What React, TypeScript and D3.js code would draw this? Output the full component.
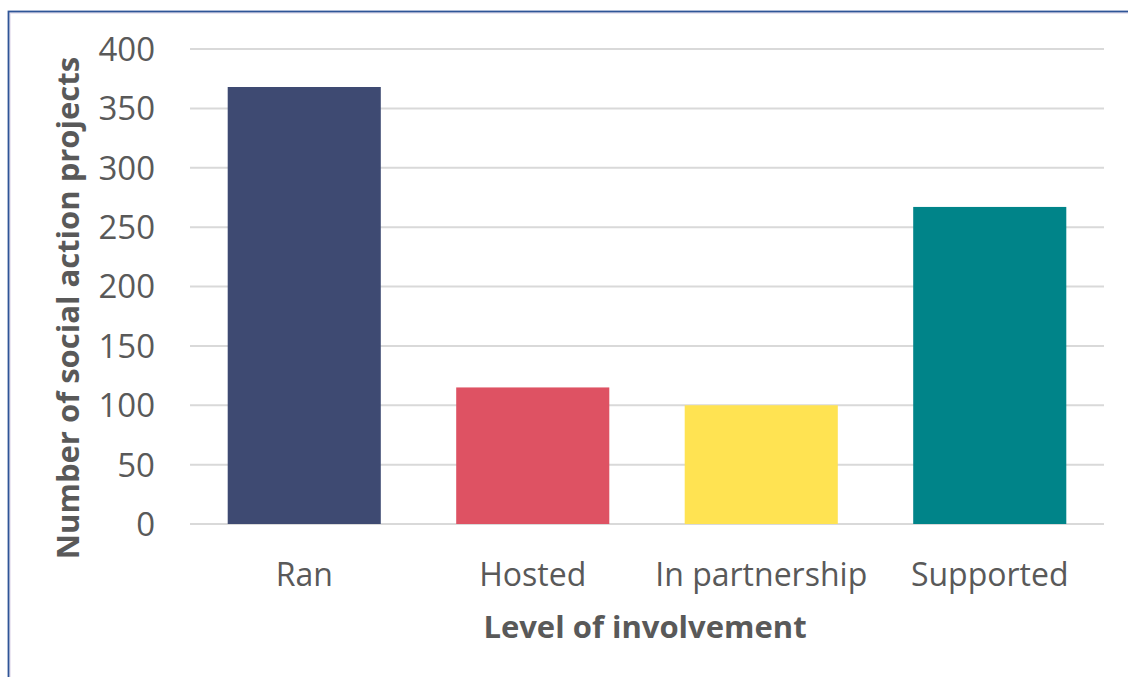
import React from "react";
import * as d3 from "d3";

const categories = ["Ran", "Hosted", "In partnership", "Supported"];
const values = [368, 115, 100, 267];
const barColors = ["#3E4A72", "#DE5263", "#FFE352", "#008489"];
const yTicks = [0, 50, 100, 150, 200, 250, 300, 350, 400];
const xTitle = "Level of involvement";
const yTitle = "Number of social action projects";

const W = 1128;
const H = 677;
const margin = { left: 190, right: 24, top: 49, bottom: 153 };
const FONT = "'Open Sans', 'Noto Sans', sans-serif";
const TEXT = "#595959";

export default function App() {
  const x = d3
    .scaleBand<string>()
    .domain(categories)
    .range([margin.left, W - margin.right])
    .paddingInner(0.33)
    .paddingOuter(0.165);
  const y = d3.scaleLinear().domain([0, 400]).range([H - margin.bottom, margin.top]);

  return (
    <svg
      width={W}
      height={H}
      style={{ position: "absolute", left: 0, top: 0, background: "#fff" }}
    >
      <rect x={0} y={0} width={W} height={H} fill="#fff" />
      {/* frame */}
      <rect x={10} y={13} width={W + 20} height={H + 20} fill="none" stroke="#E6E0EE" strokeWidth={1.5} />
      <rect x={8.5} y={11.5} width={W + 20} height={H + 20} fill="none" stroke="#2F5597" strokeWidth={1.8} />

      {/* gridlines */}
      {yTicks.map((t) => (
        <line
          key={t}
          x1={margin.left}
          x2={W - margin.right}
          y1={y(t)}
          y2={y(t)}
          stroke="#D9D9D9"
          strokeWidth={2}
        />
      ))}

      {/* bars */}
      {categories.map((c, i) => (
        <rect
          key={c}
          x={x(c)!}
          y={y(values[i])}
          width={x.bandwidth()}
          height={y(0) - y(values[i])}
          fill={barColors[i]}
        />
      ))}

      {/* y tick labels */}
      {yTicks.map((t) => (
        <text
          key={t}
          x={155}
          y={y(t)}
          dy="0.36em"
          textAnchor="end"
          fontFamily={FONT}
          fontSize={33}
          fill={TEXT}
        >
          {t}
        </text>
      ))}

      {/* x tick labels */}
      {categories.map((c) => (
        <text
          key={c}
          x={x(c)! + x.bandwidth() / 2}
          y={586}
          textAnchor="middle"
          fontFamily={FONT}
          fontSize={32}
          fill={TEXT}
        >
          {c}
        </text>
      ))}

      {/* axis titles */}
      <text
        x={645}
        y={638}
        textAnchor="middle"
        fontFamily={FONT}
        fontSize={31}
        fontWeight="bold"
        fill={TEXT}
      >
        {xTitle}
      </text>
      <text
        transform={`translate(79, ${(58 + 558) / 2}) rotate(-90)`}
        textAnchor="middle"
        fontFamily={FONT}
        fontSize={31}
        fontWeight="bold"
        fill={TEXT}
      >
        {yTitle}
      </text>
    </svg>
  );
}
